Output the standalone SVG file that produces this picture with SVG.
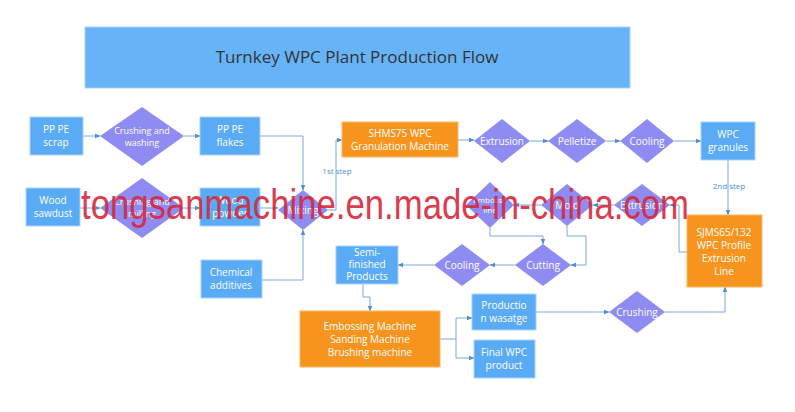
<svg xmlns="http://www.w3.org/2000/svg" width="795" height="412" viewBox="0 0 795 412">
<defs>
<marker id="a" viewBox="0 0 10 10" refX="9" refY="5" markerWidth="6" markerHeight="6" orient="auto"><path d="M0,1 L10,5 L0,9 z" fill="#4f8fcc"/></marker>
<style>
.b{fill:#5aabf5;stroke:#a9d3fa;stroke-width:1}
.o{fill:#f7941d;stroke:#fbb865;stroke-width:1}
.d{fill:#8e8cf2}
text{font-family:"Open Sans","Liberation Sans",sans-serif;fill:#fff;font-size:10px;text-anchor:middle}
.s{font-size:9px}
.t{font-size:8px}
.l{fill:#4f8fcc;font-size:8px}
#c path{fill:none;stroke:#7aaad8;stroke-width:1;marker-end:url(#a)}
</style>
</defs>
<rect width="795" height="412" fill="#fff"/>
<g id="title"><rect x="85" y="27" width="545" height="61" fill="#66b3f8" stroke="#a9d3fa"/><text x="357" y="63" style="font-size:17px;fill:#333">Turnkey WPC Plant Production Flow</text></g>
<g id="c">
<path d="M83,136 H100"/>
<path d="M184,136 H200"/>
<path d="M80,208 H100"/>
<path d="M184,208 H200"/>
<path d="M260,136 H303 V190"/>
<path d="M260,208 H278"/>
<path d="M262,280 H303 V230"/>
<path d="M328,210 H336 V140 H342"/>
<path d="M458,140 H474"/>
<path d="M530,141 H548"/>
<path d="M606,141 H620"/>
<path d="M674,141 H701"/>
<path d="M728,160 V215"/>
<path d="M687,252 H679 V205 H670"/>
<path d="M614,205 H593"/>
<path d="M541,205 H514"/>
<path d="M490,228 V236 H543 V244"/>
<path d="M567,226 V236 H586 V265 H571"/>
<path d="M515,265 H490"/>
<path d="M434,265 H398"/>
<path d="M363,284 V297 H370 V311"/>
<path d="M440,339 H456 V318 H472"/>
<path d="M456,339 V358 H474"/>
<path d="M536,312 H609"/>
<path d="M665,312 H725 V287"/>
<text class="l" x="337" y="174">1st step</text>
<text class="l" x="729" y="189">2nd step</text>
</g>
<g id="n1"><rect class="b" x="30" y="117" width="53" height="38"/><text x="56" y="133">PP PE</text><text x="56" y="146">scrap</text></g>
<g id="n2"><path class="d" d="M142,107 L184,136 L142,166 L100,136 z"/><text class="s" x="142" y="134">Crushing and</text><text class="s" x="142" y="146">washing</text></g>
<g id="n3"><rect class="b" x="200" y="117" width="60" height="38"/><text x="230" y="133">PP PE</text><text x="230" y="146">flakes</text></g>
<g id="n4"><rect class="b" x="26" y="188" width="54" height="38"/><text x="53" y="204">Wood</text><text x="53" y="217">sawdust</text></g>
<g id="n5"><path class="d" d="M142,178 L184,208 L142,238 L100,208 z"/><text class="s" x="142" y="205">Crushing and</text><text class="s" x="142" y="217">milling</text></g>
<g id="n6"><rect class="b" x="200" y="188" width="60" height="38"/><text x="230" y="204">Wood</text><text x="230" y="217">powder</text></g>
<g id="n7"><path class="d" d="M303,190 L328,210 L303,230 L278,210 z"/><text x="303" y="214">Mixing</text></g>
<g id="n8"><rect class="b" x="201" y="260" width="61" height="38"/><text x="231" y="276">Chemical</text><text x="231" y="289">additives</text></g>
<g id="n9"><rect class="o" x="342" y="122" width="116" height="35"/><text x="400" y="137">SHMS75 WPC</text><text x="400" y="150">Granulation  Machine</text></g>
<g id="n10"><path class="d" d="M502,119 L530,141 L502,163 L474,141 z"/><text x="502" y="145">Extrusion</text></g>
<g id="n11"><path class="d" d="M577,119 L606,141 L577,163 L548,141 z"/><text x="577" y="145">Pelletize</text></g>
<g id="n12"><path class="d" d="M647,119 L674,141 L647,163 L620,141 z"/><text x="647" y="145">Cooling</text></g>
<g id="n13"><rect class="b" x="701" y="122" width="54" height="38"/><text x="728" y="138">WPC</text><text x="728" y="151">granules</text></g>
<g id="n14"><rect class="o" x="687" y="215" width="75" height="72"/><text x="724" y="236">SJMS65/132</text><text x="724" y="249">WPC Profile</text><text x="724" y="262">Extrusion</text><text x="724" y="275">Line</text></g>
<g id="n15"><path class="d" d="M642,184 L670,205 L642,226 L614,205 z"/><text x="642" y="209">Extrusion</text></g>
<g id="n16"><path class="d" d="M567,184 L593,205 L567,226 L541,205 z"/><text x="567" y="209">Mold</text></g>
<g id="n17"><path class="d" d="M490,182 L514,205 L490,228 L466,205 z"/><text class="t" x="490" y="203">Embosse</text><text class="t" x="490" y="213">line</text></g>
<g id="n18"><path class="d" d="M543,244 L571,265 L543,286 L515,265 z"/><text x="543" y="269">Cutting</text></g>
<g id="n19"><path class="d" d="M462,244 L490,265 L462,286 L434,265 z"/><text x="462" y="269">Cooling</text></g>
<g id="n20"><rect class="b" x="336" y="246" width="62" height="38"/><text x="367" y="256">Semi-</text><text x="367" y="268">finished</text><text x="367" y="280">Products</text></g>
<g id="n21"><rect class="o" x="300" y="311" width="140" height="56"/><text x="370" y="330">Embossing Machine</text><text x="370" y="343">Sanding Machine</text><text x="370" y="356">Brushing machine</text></g>
<g id="n22"><rect class="b" x="472" y="294" width="64" height="36"/><text x="504" y="309">Productio</text><text x="504" y="322">n wasatge</text></g>
<g id="n23"><rect class="b" x="474" y="340" width="61" height="38"/><text x="504" y="356">Final WPC</text><text x="504" y="369">product</text></g>
<g id="n24"><path class="d" d="M637,291 L665,312 L637,333 L609,312 z"/><text x="637" y="316">Crushing</text></g>
<text x="385" y="219" style="fill:#d8283c;opacity:0.9;font-family:'Liberation Sans',sans-serif;font-size:42px" textLength="608" lengthAdjust="spacingAndGlyphs">tongsanmachine.en.made-in-china.com</text>
</svg>
